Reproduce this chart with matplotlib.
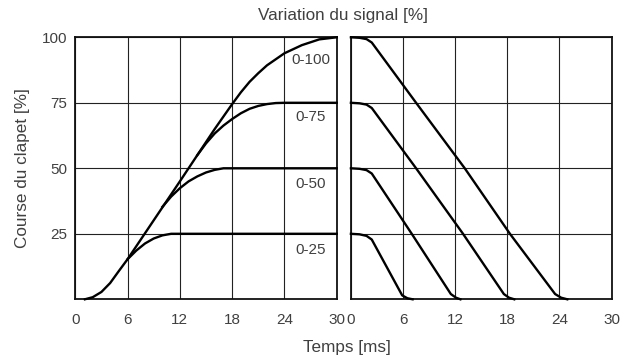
import matplotlib
matplotlib.use("Agg")
import matplotlib.pyplot as plt

plt.rcParams['font.family'] = ['Liberation Sans', 'DejaVu Sans']
txt = "#404040"

# ouverture (course du clapet en fonction du temps) pour chaque plage de signal
t_100 = [1.1, 2, 3, 4, 5, 6, 12, 16, 18, 19, 20, 21, 22, 24, 26, 28, 30]
c_100 = [0, 0.8, 2.8, 6.2, 10.8, 15.3, 45, 65, 74.5, 79, 83, 86.3, 89.3, 93.9, 97, 99.2, 100]
t_75 = [14, 15, 16, 17, 18, 19, 20, 21, 22, 23, 24, 30]
c_75 = [55, 59.5, 63.3, 66.3, 68.8, 71, 72.7, 73.8, 74.5, 74.9, 75, 75]
t_50 = [10, 11, 12, 13, 14, 15, 16, 17, 30]
c_50 = [35.3, 39.2, 42.4, 45, 46.9, 48.4, 49.4, 50, 50]
t_25 = [6, 7, 8, 9, 10, 11, 30]
c_25 = [15.3, 18.6, 21.3, 23.2, 24.4, 25, 25]
ouverture = [(t_100, c_100, "0-100", 91.3), (t_75, c_75, "0-75", 69.5),
             (t_50, c_50, "0-50", 44), (t_25, c_25, "0-25", 18.8)]

# fermeture
tf_100 = [0, 1, 1.8, 2.4, 7.5, 13.1, 18.3, 23.5, 24.2, 24.9]
cf_100 = [100, 99.8, 99.3, 98, 75, 50, 25, 2, 0.6, 0]
tf_75 = [0, 1, 1.8, 2.4, 7.5, 12.9, 17.6, 18.2, 18.8]
cf_75 = [75, 74.8, 74.3, 73, 50, 25, 2, 0.6, 0]
tf_50 = [0, 1, 1.8, 2.4, 7.0, 11.5, 12.1, 12.6]
cf_50 = [50, 49.8, 49.3, 48, 25, 2, 0.6, 0]
tf_25 = [0, 1, 1.8, 2.4, 5.9, 6.5, 7.1]
cf_25 = [25, 24.8, 24.2, 22.8, 1.5, 0.4, 0]
fermeture = [(tf_100, cf_100), (tf_75, cf_75), (tf_50, cf_50), (tf_25, cf_25)]

xticks = [0, 6, 12, 18, 24, 30]
yticks = [25, 50, 75, 100]
fs = 11
fs_lab = 12.3

fig = plt.figure(figsize=(6.3, 3.63), dpi=100)
ax1 = fig.add_axes([0.1195, 0.1755, 0.415, 0.7218])
ax2 = fig.add_axes([0.557, 0.1755, 0.4138, 0.7218])

for ax in (ax1, ax2):
    ax.set_xlim(0, 30)
    ax.set_ylim(0, 100)
    ax.set_xticks(xticks)
    ax.set_yticks(yticks)
    ax.grid(True, color="#222222", lw=0.8)
    ax.set_axisbelow(True)
    ax.tick_params(length=0, labelsize=fs, labelcolor=txt)
    ax.tick_params(axis="x", pad=10)
    ax.tick_params(axis="y", pad=6)
    for s in ax.spines.values():
        s.set_linewidth(1.3)
        s.set_color("#111111")
ax2.tick_params(labelleft=False)

for t, c, lab, ly in ouverture:
    ax1.plot(t, c, color="black", lw=1.7, clip_on=False, zorder=3)
    ax1.text(27, ly, lab, ha="center", va="center", fontsize=fs, color=txt)

for t, c in fermeture:
    ax2.plot(t, c, color="black", lw=1.7, clip_on=False, zorder=3)

fig.text(0.035, 0.537, "Course du clapet [%]", rotation=90, ha="center",
         va="center", fontsize=fs_lab, color=txt)
fig.text(0.545, 0.956, "Variation du signal [%]", ha="center", va="center",
         fontsize=fs_lab, color=txt)
fig.text(0.55, 0.044, "Temps [ms]", ha="center", va="center",
         fontsize=fs_lab, color=txt)

fig.savefig("out.png", dpi=100)
